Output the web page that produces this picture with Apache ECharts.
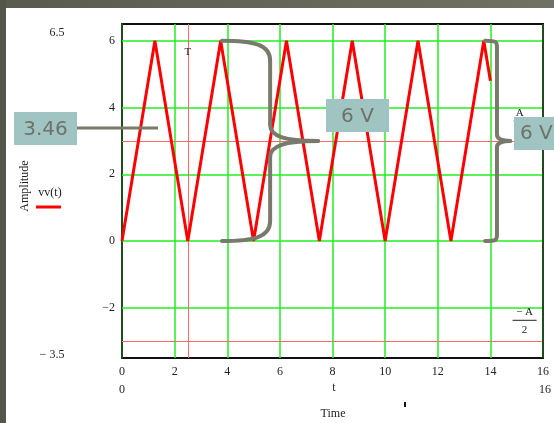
<!DOCTYPE html>
<html>
<head>
<meta charset="utf-8">
<script src="https://cdn.jsdelivr.net/npm/echarts@6/dist/echarts.min.js"></script>
<style>
html,body{margin:0;padding:0;background:#fff;}
#c{width:554px;height:423px;}
</style>
</head>
<body>
<div id="c"></div>
<script>
// ---- data ----
const tValues  = [0, 1.25, 2.5, 3.75, 5, 6.25, 7.5, 8.75, 10, 11.25, 12.5, 13.75, 14];
const vvValues = [0, 6,    0,   6,    0, 6,    0,   6,    0,  6,     0,    6,     4.8];
const xGridLines = [2, 4, 6, 8, 10, 12, 14];
const yGridLines = [-2, 0, 2, 4, 6];
const markerT = 2.5;          // T
const markerLevels = [3, -3]; // A/2, -A/2
const xMin = 0, xMax = 16, yMin = -3.5, yMax = 6.5;

const chart = echarts.init(document.getElementById('c'), null, {renderer: 'canvas'});
const serif = 'Liberation Serif';
const sans = 'DejaVu Sans';
const green = '#22ee22';
const pink = '#ff6a6a';
const braceColor = '#7a7a6c';
const boxFill = '#9fc4c2';
const boxText = '#6e7268';

const pinkStyle = {color: pink, width: 1, type: 'solid', opacity: 1};
const option = {
  animation: false,
  backgroundColor: '#fff',
  grid: {left: 122, right: 11, top: 24, bottom: 65, show: true, borderColor: '#111', borderWidth: 2},
  xAxis: {
    type: 'value', min: xMin, max: xMax, interval: 2,
    axisLine: {show: false}, axisTick: {show: false}, splitLine: {show: false},
    axisLabel: {fontFamily: serif, fontSize: 12, color: '#222', margin: 8}
  },
  yAxis: {
    type: 'value', min: yMin, max: yMax, interval: 0.5,
    axisLine: {show: true, onZero: false, lineStyle: {color: '#1d4d1d', width: 2}},
    axisTick: {show: false}, splitLine: {show: false},
    axisLabel: {
      fontFamily: serif, fontSize: 12, color: '#222', margin: 7,
      formatter: v => (Math.abs(v % 2) < 1e-9 && v <= 6 && v >= -2) ? (v < 0 ? '\u2212' + Math.abs(v) : String(v)) : ''
    }
  },
  series: [
    {
      type: 'line', data: [], silent: true, z: 1,
      markLine: {
        silent: true, symbol: 'none', animation: false, label: {show: false},
        lineStyle: {color: green, width: 1.5, type: 'solid'},
        data: xGridLines.map(x => ({xAxis: x})).concat(yGridLines.map(y => ({yAxis: y})))
      }
    },
    {
      type: 'line', data: [], silent: true, z: 2,
      markLine: {
        silent: true, symbol: 'none', animation: false, label: {show: false},
        lineStyle: pinkStyle,
        data: [{xAxis: markerT, lineStyle: pinkStyle}]
          .concat(markerLevels.map(y => ({yAxis: y, lineStyle: pinkStyle})))
          .concat([{xAxis: xMax, lineStyle: {color: '#1d4d1d', width: 2}}])
      }
    },
    {
      name: 'vv(t)', type: 'line', z: 5,
      data: tValues.map((t, i) => [t, vvValues[i]]),
      showSymbol: false, symbol: 'none',
      lineStyle: {color: '#ff0000', width: 3}
    }
  ]
};
chart.setOption(option);

function P(x, y) { return chart.convertToPixel({gridIndex: 0}, [x, y]); }

const g = [];
// window frame
g.push({type: 'rect', shape: {x: 0, y: 0, width: 554, height: 8}, style: {fill: new echarts.graphic.LinearGradient(0,0,1,0,[{offset:0,color:'#5a5b4e'},{offset:1,color:'#707063'}])}, z: 100});
g.push({type: 'rect', shape: {x: 0, y: 0, width: 6, height: 423}, style: {fill: '#55564a'}, z: 100});

function txt(x, y, s, opts) {
  return {type: 'text', x: x, y: y, style: Object.assign({text: s, fill: '#222', font: '12px "' + serif + '"', align: 'center', verticalAlign: 'middle'}, opts || {}), z: 50};
}
g.push(txt(57, 33, '6.5'));
g.push(txt(52, 355, '\u2212 3.5'));
g.push(txt(122, 390, '0'));
g.push(txt(334, 388, 't'));
g.push(txt(545, 390, '16'));
g.push(txt(333, 414, 'Time'));
g.push({type: 'rect', shape: {x: 404, y: 402, width: 2, height: 5}, style: {fill: '#111'}, z: 50});
g.push({type: 'text', x: 25, y: 186, rotation: Math.PI / 2, style: {text: 'Amplitude', fill: '#222', font: '12px "' + serif + '"', align: 'center', verticalAlign: 'middle'}, z: 50});
g.push(txt(50, 193, 'vv(t)'));
g.push({type: 'line', shape: {x1: 36, y1: 207, x2: 61, y2: 207}, style: {stroke: '#ff0000', lineWidth: 3}, z: 50});

// T label
const pT = P(markerT, 5.65);
g.push(txt(pT[0], pT[1], 'T', {font: '11px "' + serif + '"'}));
// A/2 label (partly hidden)
const pA = P(15, 3);
g.push(txt(pA[0] + 3, pA[1] - 28, 'A', {font: '11px "' + serif + '"'}));
g.push({type: 'line', shape: {x1: pA[0] - 3, y1: pA[1] - 20, x2: pA[0] + 9, y2: pA[1] - 20}, style: {stroke: '#222', lineWidth: 1}, z: 50});
// -A/2 label
const pm = P(15.3, -3);
g.push(txt(pm[0], pm[1] - 29, '\u2212 A', {font: '11px "' + serif + '"'}));
g.push({type: 'line', shape: {x1: pm[0] - 12, y1: pm[1] - 21, x2: pm[0] + 12, y2: pm[1] - 21}, style: {stroke: '#222', lineWidth: 1}, z: 50});
g.push(txt(pm[0], pm[1] - 11, '2', {font: '11px "' + serif + '"'}));

function bez(x1, y1, c1x, c1y, c2x, c2y, x2, y2, w) {
  g.push({type: 'bezierCurve', shape: {x1: x1, y1: y1, cpx1: c1x, cpy1: c1y, cpx2: c2x, cpy2: c2y, x2: x2, y2: y2}, style: {stroke: braceColor, lineWidth: w, fill: null, lineCap: 'round'}, z: 60});
}
function seg(x1, y1, x2, y2, w) {
  g.push({type: 'line', shape: {x1: x1, y1: y1, x2: x2, y2: y2}, style: {stroke: braceColor, lineWidth: w, lineCap: 'butt'}, z: 60});
}
function brace(xl, xv, xp, yt, ym, yb, r, w) {
  bez(xl, yt, xl + r * 1.6, yt, xv, yt + r * 0.2, xv, yt + r, w);
  seg(xv, yt + r, xv, ym - r * 0.8, w);
  bez(xv, ym - r * 0.8, xv, ym - r * 0.25, xv + r * 0.7, ym, xp, ym, w);
  bez(xp, ym, xv + r * 0.7, ym, xv, ym + r * 0.25, xv, ym + r * 0.8, w);
  seg(xv, ym + r * 0.8, xv, yb - r, w);
  bez(xv, yb - r, xv, yb - r * 0.2, xl + r * 1.6, yb, xl, yb, w);
}
// Big brace from 6 to 0
const b0 = P(3.8, 6), b1 = P(5.63, 3), b2 = P(7.45, 3), b3 = P(3.8, 0);
brace(b0[0], b1[0], b2[0], b0[1], b1[1], b3[1], 20, 4);
// Small brace on right
const s0 = P(13.8, 6), s1 = P(14.25, 3), s2 = P(14.75, 3), s3 = P(13.8, 0);
brace(s0[0], s1[0], s2[0], s0[1], s1[1], s3[1], 8, 4);

// 3.46 pointer
g.push({type: 'line', shape: {x1: 77, y1: 128, x2: 158, y2: 128}, style: {stroke: braceColor, lineWidth: 3}, z: 60});
function box(x, y, w, h, s) {
  g.push({type: 'rect', shape: {x: x, y: y, width: w, height: h}, style: {fill: boxFill}, z: 70});
  g.push({type: 'text', x: x + w / 2, y: y + h / 2 + 1, style: {text: s, fill: boxText, font: '20px "' + sans + '"', align: 'center', verticalAlign: 'middle'}, z: 71});
}
box(14, 112, 63, 33, '3.46');
box(326, 99, 63, 33, '6 V');
g.push({type: 'rect', shape: {x: 514, y: 117, width: 45, height: 33}, style: {fill: boxFill}, z: 70});
g.push({type: 'text', x: 520, y: 134, style: {text: '6 V', fill: boxText, font: '20px "' + sans + '"', align: 'left', verticalAlign: 'middle'}, z: 71});

chart.setOption({graphic: {elements: g}});
</script>
</body>
</html>
